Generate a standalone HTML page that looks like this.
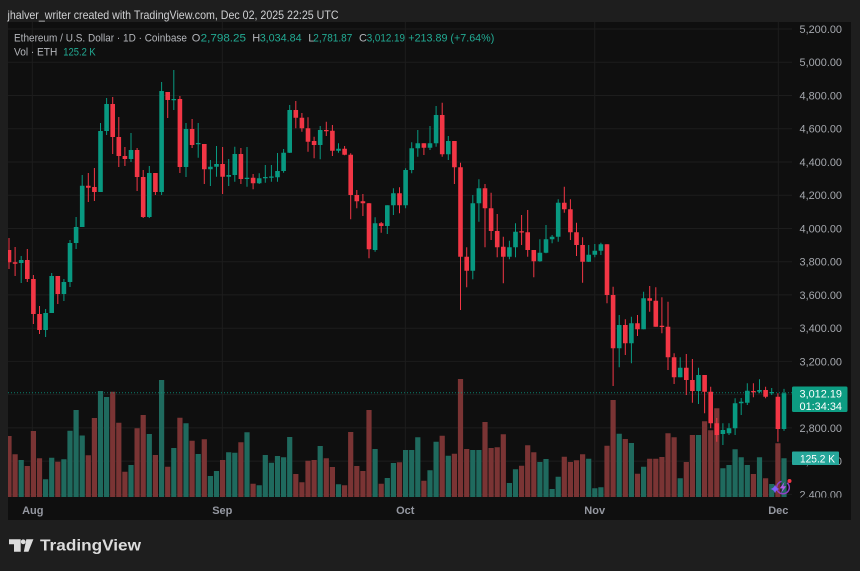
<!DOCTYPE html>
<html><head><meta charset="utf-8"><style>
html,body{margin:0;padding:0;background:#1e1e1e;}
svg{display:block;font-family:"Liberation Sans",Arial,sans-serif;}
</style></head><body>
<svg width="860" height="571" viewBox="0 0 860 571" xmlns="http://www.w3.org/2000/svg">
<defs>
<clipPath id="plot"><rect x="8" y="22" width="784" height="475.5"/></clipPath>
<clipPath id="axis"><rect x="792" y="22" width="59" height="475.5"/></clipPath>
</defs>
<rect width="860" height="571" fill="#1e1e1e"/>
<rect x="8" y="22" width="843" height="498" fill="#0f0f0f"/>
<!-- grid -->
<g stroke="#1d1d1d" stroke-width="1" fill="none">
<path d="M8 29H792M8 62.2H792M8 95.5H792M8 128.7H792M8 162H792M8 195.2H792M8 228.5H792M8 261.7H792M8 294.9H792M8 328.2H792M8 361.4H792M8 394.6H792M8 427.9H792M8 461.1H792M8 494.4H792"/>
<path d="M32.3 22V497.5M222.3 22V497.5M405.3 22V497.5M594.7 22V497.5M778.3 22V497.5"/>
</g>
<g clip-path="url(#plot)">
<!-- volume green -->
<path fill="none" stroke="#1f6a5e" stroke-width="5.2" d="M21.2 497V460M45.6 497V479.3M51.7 497V457.7M63.9 497V459.3M70 497V430.7M76.1 497V410M82.2 497V435.5M100.5 497V391M106.6 497V397M131 497V465M149.3 497V434M161.6 497V380M173.8 497V448M186 497V423.3M198.2 497V454M210.4 497V476M216.5 497V471M228.7 497V452.3M234.8 497V452.7M247 497V432.3M259.2 497V485.3M265.3 497V455M271.4 497V462.7M277.5 497V456M283.6 497V457.3M289.7 497V437M320.2 497V446M338.5 497V484.3M375.1 497V449M387.3 497V478M393.4 497V463M405.6 497V450M411.7 497V450M417.8 497V437.3M430 497V470.3M436.1 497V441.7M448.3 497V455.7M472.8 497V450M478.9 497V450M509.4 497V483M515.5 497V469.3M539.9 497V462M546 497V459M552.1 497V489M558.2 497V476.7M588.7 497V458.7M594.8 497V488.3M600.9 497V487.3M619.2 497V433.7M631.4 497V443M643.6 497V466.7M680.2 497V478.3M698.5 497V435M722.9 497V468.3M729 497V465M735.1 497V449.3M741.2 497V457.3M747.3 497V465M759.5 497V457.3M771.7 497V484M784 497V458.3"/>
<!-- volume red -->
<path fill="none" stroke="#7a3434" stroke-width="5.2" d="M9 497V436M15.1 497V454.3M27.3 497V466M33.4 497V431M39.5 497V458.3M57.8 497V461.7M88.3 497V455.3M94.4 497V418M112.7 497V391.7M118.8 497V422.7M124.9 497V471.7M137.1 497V428.3M143.2 497V415M155.4 497V455M167.7 497V466.7M179.9 497V417.7M192.1 497V440.7M204.3 497V439.3M222.6 497V460M240.9 497V442.3M253.1 497V483.7M295.8 497V474M301.9 497V482.3M308 497V460.7M314.1 497V460M326.3 497V458.3M332.4 497V467M344.6 497V485.3M350.7 497V432M356.8 497V466M362.9 497V471M369 497V410M381.2 497V483.7M399.5 497V462.3M423.9 497V480.7M442.2 497V435.7M454.4 497V453.7M460.5 497V379M466.7 497V449M485 497V422M491.1 497V448M497.2 497V447.3M503.3 497V434.3M521.6 497V465.7M527.7 497V445.3M533.8 497V452.3M564.3 497V456.7M570.4 497V462M576.5 497V460.3M582.6 497V454.3M607 497V445.7M613.1 497V400M625.3 497V439M637.5 497V473.7M649.7 497V458.7M655.8 497V458.7M661.9 497V457M668 497V433.3M674.1 497V437.3M686.3 497V462M692.4 497V435M704.6 497V421.3M710.7 497V430.3M716.8 497V408.2M753.4 497V474M765.6 497V478.3M777.9 497V443.3"/>
<!-- dotted current price line -->
<path d="M8 392.7H792" stroke="#089981" stroke-width="1" stroke-dasharray="1 2" opacity="0.8"/>
<!-- green wicks -->
<path fill="none" stroke="#089981" stroke-width="1" d="M21.2 256V283M45.6 309V337M51.7 273V313M63.9 279V301M70 240V287M76.1 217V249M82.2 175V227M100.5 123V192M106.6 98V135M131 133V162M149.3 166V218M161.6 82V195M173.8 70V110M186 123V177M198.2 123V157.7M210.4 160V186M216.5 146V176.7M228.7 159V186M234.8 146.7V181.7M247 147V186.7M259.2 173.3V184M265.3 165V182.7M271.4 165V181.7M277.5 153V181.7M283.6 149V172.7M289.7 105V153M320.2 126V159.3M338.5 143.3V152.7M375.1 217.3V251.7M387.3 205.3V234M393.4 188.3V215M405.6 168.3V208.3M411.7 142.3V173.3M417.8 130V156.7M430 126V150M436.1 106V146.7M448.3 136V160M472.8 195V279.3M478.9 179.3V221.7M509.4 240.7V259.3M515.5 223.3V257.3M539.9 239.3V261.7M546 225V253.3M552.1 235V243.3M558.2 199.3V241.7M588.7 245V262M594.8 244V257.3M600.9 242.7V255M619.2 315V367.3M631.4 316.7V363.3M643.6 291.7V329.3M680.2 357.3V377.3M698.5 367.7V404M722.9 423.3V445M729 423.3V435M735.1 398.3V435M741.2 398V415M747.3 383.3V405M759.5 379.3V393.3M771.7 388V395M784 388.9V430.9"/>
<!-- green bodies -->
<path fill="none" stroke="#089981" stroke-width="4.6" d="M21.2 260V263M45.6 313V330M51.7 276V313M63.9 282V294M70 243V282M76.1 227V243M82.2 185.7V227M100.5 131V192M106.6 104V131M131 150V159M149.3 173V217M161.6 91V192M173.8 99V100.2M186 129V167M198.2 143V144.3M210.4 166.7V169.3M216.5 164V166.7M228.7 175V176.7M234.8 154V175M247 177.7V179M259.2 178.3V183.3M265.3 177V178.3M271.4 176.5V177.7M277.5 171V177.3M283.6 152.7V171M289.7 110V152.7M320.2 130V145M338.5 148.7V150.7M375.1 223.3V250M387.3 205.3V226M393.4 193.3V205.3M405.6 170V205.3M411.7 148.3V170M417.8 143.3V148.3M430 143.3V147.7M436.1 115V143.3M448.3 141V154.3M472.8 203.3V270.7M478.9 188.3V203.3M509.4 247.3V256.7M515.5 231.7V247.3M539.9 252.7V261.3M546 239.3V252.7M552.1 236.7V239.3M558.2 202.7V236.7M588.7 254.7V261.7M594.8 250.7V254.7M600.9 244.3V250.7M619.2 325V348.3M631.4 323.3V343.3M643.6 298.3V329.3M680.2 367.7V377.3M698.5 375V391M722.9 430V434M729 428.3V433.3M735.1 403.3V428.3M741.2 401.7V403.3M747.3 390.7V402.7M759.5 390V391.7M771.7 392V393.2M784 393.3V429"/>
<!-- red wicks -->
<path fill="none" stroke="#f23645" stroke-width="1" d="M9 238V269M15.1 247V276M27.3 249V282M33.4 275V324M39.5 306V334M57.8 276V304M88.3 173V202M94.4 168V201M112.7 97V154M118.8 117V167M124.9 147V166M137.1 148V191M143.2 170V218M155.4 173V195M167.7 92V118M179.9 96V173M192.1 119V148M204.3 144V184M222.6 147V194M240.9 148V184M253.1 174V189.3M295.8 101V128.3M301.9 113V131.7M308 117.3V151.7M314.1 136.7V158.3M326.3 121.7V136M332.4 125V156M344.6 146V155.3M350.7 153.3V219.3M356.8 190V208.3M362.9 194V216M369 203V258.3M381.2 222V232.7M399.5 187.3V213.3M423.9 143.3V155M442.2 102.7V156.7M454.4 141V184M460.5 162.7V310M466.7 247.3V287.3M485 184V247.3M491.1 192.7V240M497.2 214V257.3M503.3 236.7V283.3M521.6 215V245M527.7 210V256.7M533.8 250V277.3M564.3 186.7V212.7M570.4 199.3V240M576.5 222.7V256M582.6 237.3V282.7M607 244.3V303.3M613.1 286.7V386M625.3 319.3V355M637.5 315V336M649.7 286V311.7M655.8 287.3V326.7M661.9 297.3V333.3M668 301.7V370M674.1 353.3V384M686.3 354V395M692.4 359V402.7M704.6 375V413.3M710.7 386.7V428.3M716.8 418V441.7M753.4 383.3V397.3M765.6 386.7V398.3M777.9 393.3V441.7"/>
<!-- red bodies -->
<path fill="none" stroke="#f23645" stroke-width="4.6" d="M9 250V262.3M15.1 262.3V263.7M27.3 260V279M33.4 279V314M39.5 314V330M57.8 276V294M88.3 185.7V187.7M94.4 187V192M112.7 104V137M118.8 137V156M124.9 156V159M137.1 150V177M143.2 177V217M155.4 173V192M167.7 92V100M179.9 99V167M192.1 129V145M204.3 144V169.3M222.6 164V176.7M240.9 154V179M253.1 177.7V183.3M295.8 110V117.7M301.9 117.7V128.3M308 128.3V141.7M314.1 141V145M326.3 130V131.2M332.4 130.7V150.7M344.6 148.7V154.7M350.7 154.7V195M356.8 195V201.3M362.9 201.3V203.3M369 203.3V249.3M381.2 223.3V226M399.5 193.3V205.3M423.9 143.3V147.7M442.2 115V154.3M454.4 141V167.3M460.5 167.3V256.7M466.7 256.7V270.7M485 188.3V208.3M491.1 208.3V231M497.2 231V247.3M503.3 246.7V256.7M521.6 231.3V232.5M527.7 232.3V250M533.8 250V261.3M564.3 202.7V209.3M570.4 209.3V232.3M576.5 232.3V245M582.6 245V261.7M607 244.3V295M613.1 295V348.3M625.3 325V343.3M637.5 323.3V329.3M649.7 298.3V300.7M655.8 300.7V326.7M661.9 325.7V327M668 326.7V357.3M674.1 357.3V377.3M686.3 367.7V380M692.4 380V391M704.6 375V391.7M710.7 391.7V423.3M716.8 423.3V435M753.4 391V392.3M765.6 390V396.7M777.9 396.7V429"/>
<!-- purple icon -->
<circle cx="783" cy="487.5" r="6.3" fill="none" stroke="#8e3fc4" stroke-width="1.5" stroke-dasharray="28 6"/>
<path d="M784.5 481.8L779.8 488.4L782.8 488.4L780.8 493.5L786.2 486.3L783.2 486.3Z" fill="#b25ae8"/>
<path d="M775 484.5Q775.8 488.2 779.5 489Q775.8 489.8 775 493.5Q774.2 489.8 770.5 489Q774.2 488.2 775 484.5Z" fill="#7b61ff"/>
<circle cx="789.5" cy="481" r="2" fill="#f23645"/>
</g>
<!-- price axis labels -->
<g clip-path="url(#axis)" font-size="11" fill="#a5a8ae">
<text x="799.5" y="33" textLength="42.5" lengthAdjust="spacingAndGlyphs">5,200.00</text>
<text x="799.5" y="66.2" textLength="42.5" lengthAdjust="spacingAndGlyphs">5,000.00</text>
<text x="799.5" y="99.5" textLength="42.5" lengthAdjust="spacingAndGlyphs">4,800.00</text>
<text x="799.5" y="132.7" textLength="42.5" lengthAdjust="spacingAndGlyphs">4,600.00</text>
<text x="799.5" y="166" textLength="42.5" lengthAdjust="spacingAndGlyphs">4,400.00</text>
<text x="799.5" y="199.2" textLength="42.5" lengthAdjust="spacingAndGlyphs">4,200.00</text>
<text x="799.5" y="232.5" textLength="42.5" lengthAdjust="spacingAndGlyphs">4,000.00</text>
<text x="799.5" y="265.7" textLength="42.5" lengthAdjust="spacingAndGlyphs">3,800.00</text>
<text x="799.5" y="298.9" textLength="42.5" lengthAdjust="spacingAndGlyphs">3,600.00</text>
<text x="799.5" y="332.2" textLength="42.5" lengthAdjust="spacingAndGlyphs">3,400.00</text>
<text x="799.5" y="365.4" textLength="42.5" lengthAdjust="spacingAndGlyphs">3,200.00</text>
<text x="799.5" y="431.9" textLength="42.5" lengthAdjust="spacingAndGlyphs">2,800.00</text>
<text x="799.5" y="465.1" textLength="42.5" lengthAdjust="spacingAndGlyphs">2,600.00</text>
<text x="799.5" y="498.4" textLength="42.5" lengthAdjust="spacingAndGlyphs">2,400.00</text>
</g>
<!-- current price box -->
<rect x="792" y="386.5" width="55.5" height="25.5" rx="1.5" fill="#0d9c82"/>
<text x="799.5" y="397.3" font-size="11" fill="#ffffff" textLength="42.5" lengthAdjust="spacingAndGlyphs">3,012.19</text>
<text x="799.5" y="409.8" font-size="11" fill="#ffffff" textLength="42.5" lengthAdjust="spacingAndGlyphs">01:34:34</text>
<!-- volume box -->
<rect x="792" y="451.5" width="47" height="13.5" rx="1" fill="#26a69a"/>
<text x="800" y="462.3" font-size="11" fill="#ffffff" textLength="35" lengthAdjust="spacingAndGlyphs">125.2 K</text>
<!-- time axis -->
<g font-size="11" font-weight="bold" fill="#9598a1" text-anchor="middle">
<text x="32.8" y="514">Aug</text>
<text x="222.3" y="514">Sep</text>
<text x="405.3" y="514">Oct</text>
<text x="594.7" y="514">Nov</text>
<text x="778.3" y="514">Dec</text>
</g>
<!-- legend -->
<g font-size="11" fill="#b4b6bb">
<text x="14" y="41.5" textLength="173" lengthAdjust="spacingAndGlyphs">Ethereum / U.S. Dollar · 1D · Coinbase</text>
<text x="191.7" y="41.5">O</text>
<text x="252.3" y="41.5">H</text>
<text x="308.3" y="41.5">L</text>
<text x="359" y="41.5">C</text>
<text x="14" y="55.3" textLength="43.3" lengthAdjust="spacingAndGlyphs">Vol · ETH</text>
</g>
<g font-size="11" fill="#22ab94">
<text x="200.7" y="41.5" textLength="45.3" lengthAdjust="spacingAndGlyphs">2,798.25</text>
<text x="259.7" y="41.5" textLength="42" lengthAdjust="spacingAndGlyphs">3,034.84</text>
<text x="313.3" y="41.5" textLength="39" lengthAdjust="spacingAndGlyphs">2,781.87</text>
<text x="366.7" y="41.5" textLength="38.3" lengthAdjust="spacingAndGlyphs">3,012.19</text>
<text x="408.3" y="41.5" textLength="86" lengthAdjust="spacingAndGlyphs">+213.89 (+7.64%)</text>
<text x="63.3" y="55.3" textLength="32.4" lengthAdjust="spacingAndGlyphs">125.2 K</text>
</g>
<!-- header -->
<text x="7.5" y="19" font-size="12" fill="#cfd0d2" textLength="331" lengthAdjust="spacingAndGlyphs">jhalver_writer created with TradingView.com, Dec 02, 2025 22:25 UTC</text>
<!-- logo -->
<g fill="#dcdcdc">
<path d="M9 539.3H20.7V551.7H14V544.3H9Z"/>
<circle cx="23.2" cy="541.8" r="2.4"/>
<path d="M26.3 539.3H33.4L28.4 551.7H23.8Z"/>
</g>
<text x="40" y="550.5" font-size="15.5" font-weight="bold" fill="#dcdcdc" textLength="101" lengthAdjust="spacingAndGlyphs">TradingView</text>
</svg>
</body></html>
